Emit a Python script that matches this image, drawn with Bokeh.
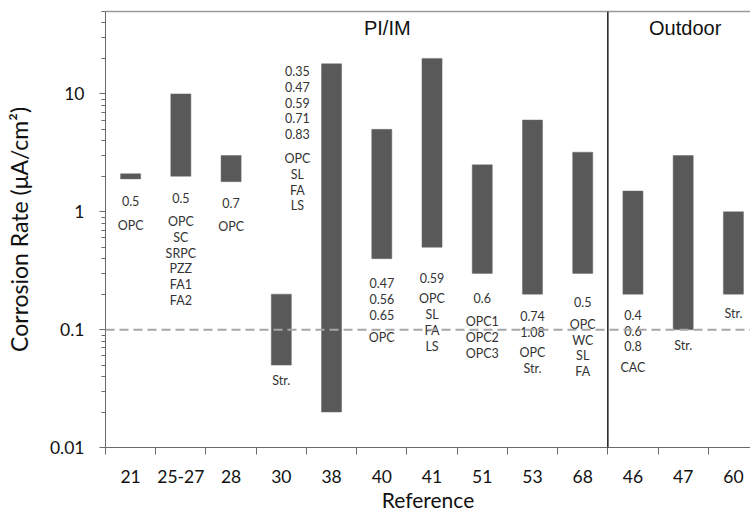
from bokeh.plotting import figure
from bokeh.models import (ColumnDataSource, Range1d, FixedTicker, LinearAxis, Span)
from bokeh.core.properties import value
from bokeh.embed import file_html
from bokeh.resources import INLINE

# ---- data ----
refs = ["21", "25-27", "28", "30", "38", "40", "41", "51", "53", "68", "46", "47", "60"]
rate_low = [1.9, 2.0, 1.8, 0.05, 0.02, 0.4, 0.5, 0.3, 0.2, 0.3, 0.2, 0.1, 0.2]
rate_high = [2.1, 10.0, 3.0, 0.2, 18.0, 5.0, 20.0, 2.5, 6.0, 3.2, 1.5, 3.0, 1.0]
wc_ratios = ["0.5", "0.5", "0.7", "", "0.35\n0.47\n0.59\n0.71\n0.83", "0.47\n0.56\n0.65",
             "0.59", "0.6", "0.74\n1.08", "0.5", "0.4\n0.6\n0.8", "", ""]
binders = ["OPC", "OPC\nSC\nSRPC\nPZZ\nFA1\nFA2", "OPC", "Str.", "OPC\nSL\nFA\nLS", "OPC",
           "OPC\nSL\nFA\nLS", "OPC1\nOPC2\nOPC3", "OPC\nStr.", "OPC\nWC\nSL\nFA", "CAC",
           "Str.", "Str."]
groups = ["PI/IM", "Outdoor"]
y_ticks = [0.01, 0.1, 1, 10]
threshold = 0.1
x_title = "Reference"
y_title = "Corrosion Rate (μA/cm²)"

# ---- label placement (positions only) ----
label_dx = [0, 0, 0, 0, -0.68, 0, 0, 0, 0, 0, 0, 0, 0]
wc_top = [1.35, 1.44, 1.31, None, 17.9, 0.283, 0.30, 0.204, 0.150, 0.19, 0.153, None, None]
binder_top = [0.886, 0.957, 0.869, 0.043, 3.27, 0.0987, 0.211, 0.135, 0.0736, 0.128, 0.055, 0.0844, 0.160]
group_x = [5.61, 11.54]
group_y = [36.5, 36.5]
divider_at = 10  # boundary between indoor (PI/IM) and outdoor references

n = len(refs)
centers = [i + 0.5 for i in range(n)]

p = figure(width=750, height=515, output_backend="svg", toolbar_location=None,
           y_axis_type="log", x_range=Range1d(0, 12.84), y_range=Range1d(0.01, 50),
           min_border_left=105, min_border_right=0, min_border_top=11, min_border_bottom=68)
p.outline_line_color = None
p.grid.visible = False
p.background_fill_color = "white"

bars = ColumnDataSource(dict(x=centers, bottom=rate_low, top=rate_high))
p.vbar(x="x", width=0.4, bottom="bottom", top="top", source=bars,
       fill_color="#595959", line_color="#6e6e6e", line_width=0.5)

# threshold line and divider
p.add_layout(Span(location=threshold, dimension="width", line_color="#a6a6a6",
                  line_width=2, line_dash="9 5"))
p.add_layout(Span(location=divider_at, dimension="height", line_color="#1a1a1a",
                  line_width=1.5))

# annotations
wx, wy, wt = [], [], []
bx, by, bt = [], [], []
for i in range(n):
    if wc_ratios[i]:
        wx.append(centers[i] + label_dx[i]); wy.append(wc_top[i]); wt.append(wc_ratios[i])
    if binders[i]:
        bx.append(centers[i] + label_dx[i]); by.append(binder_top[i]); bt.append(binders[i])
for xs, ys, ts in ((wx, wy, wt), (bx, by, bt)):
    p.text(x=xs, y=ys, text=ts, text_font=value("Lato"), text_font_size="12.5px",
           text_color="#333333", text_align="center", text_baseline="top",
           text_line_height=1.05)

p.text(x=group_x, y=group_y, text=groups, text_font=value("Liberation Sans"),
       text_font_size="20px", text_color="#111111", text_align="center",
       text_baseline="middle")

# x axis
xa = p.xaxis[0]
xa.ticker = FixedTicker(ticks=centers, minor_ticks=list(range(n + 1)))
xa.major_label_overrides = {c: r for c, r in zip(centers, refs)}
xa.major_tick_out = 0
xa.major_tick_in = 0
xa.minor_tick_out = 7
xa.minor_tick_in = 0
xa.axis_line_color = "#6a6a6a"
xa.minor_tick_line_color = "#6a6a6a"
xa.major_label_text_font = "Lato"
xa.major_label_text_font_size = "17.5px"
xa.major_label_text_color = "#111111"
xa.major_label_standoff = 15
xa.axis_label = x_title
xa.axis_label_text_font = "Lato"
xa.axis_label_text_font_size = "21px"
xa.axis_label_text_font_style = "normal"
xa.axis_label_text_color = "#111111"
xa.axis_label_standoff = 1

# y axis
minor = []
for d in [0.01, 0.1, 1, 10]:
    for k in range(2, 10):
        v = d * k
        if v <= 50:
            minor.append(v)
ya = p.yaxis[0]
ya.ticker = FixedTicker(ticks=y_ticks, minor_ticks=minor)
ya.major_label_overrides = {t: ("%g" % t) for t in y_ticks}
ya.major_tick_out = 6
ya.major_tick_in = 0
ya.minor_tick_out = 4
ya.minor_tick_in = 0
ya.axis_line_color = "#6a6a6a"
ya.major_tick_line_color = "#6a6a6a"
ya.minor_tick_line_color = "#6a6a6a"
ya.major_label_text_font = "Lato"
ya.major_label_text_font_size = "17.5px"
ya.major_label_text_color = "#111111"
ya.major_label_standoff = 15
ya.axis_label = y_title
ya.axis_label_text_font = "Lato"
ya.axis_label_text_font_size = "23px"
ya.axis_label_text_font_style = "normal"
ya.axis_label_text_color = "#111111"
ya.axis_label_standoff = 14

# top border line
top_ax = LinearAxis(ticker=FixedTicker(ticks=[]), major_label_text_font_size="0px",
                    major_tick_out=0, minor_tick_out=0, major_label_standoff=0,
                    axis_line_color="#9a9a9a", axis_line_width=1.5)
p.add_layout(top_ax, "above")

open("out.html", "w").write(file_html(p, INLINE))
